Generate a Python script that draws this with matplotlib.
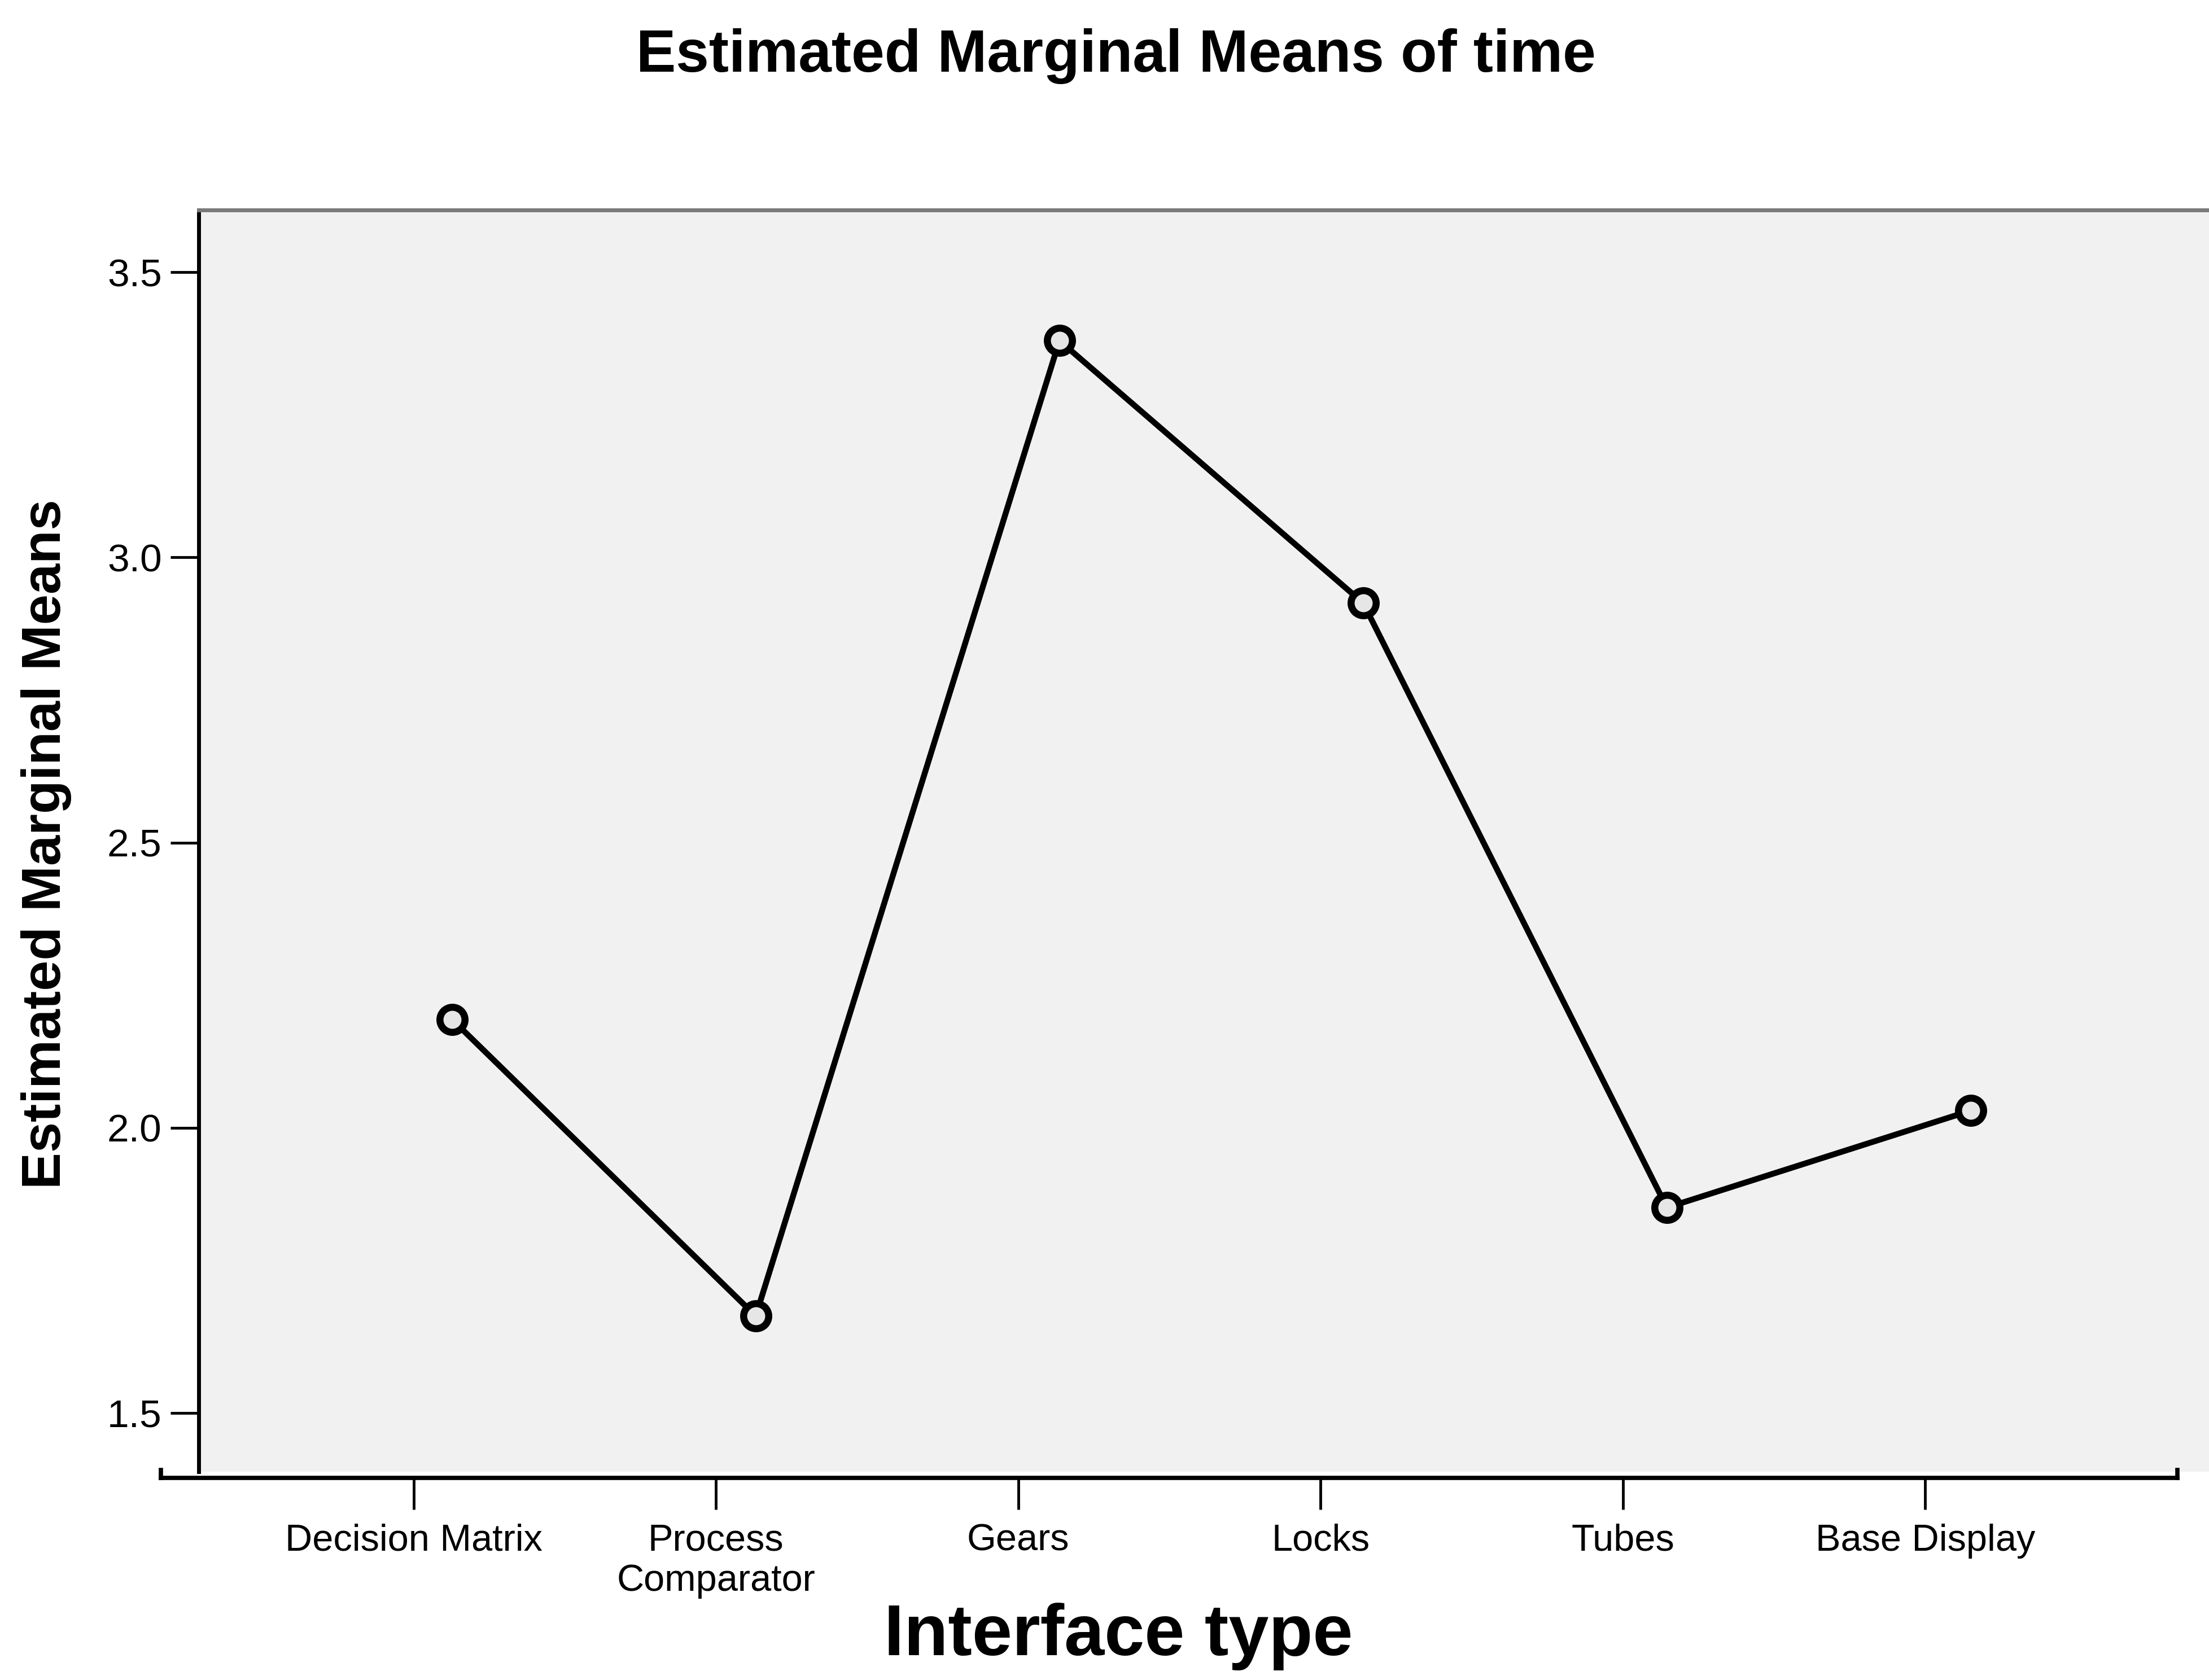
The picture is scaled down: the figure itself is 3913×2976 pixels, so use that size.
import matplotlib
matplotlib.use("Agg")
import matplotlib.pyplot as plt
import numpy as np

# ---- data ----
categories = ["Decision Matrix", "Process\nComparator", "Gears", "Locks", "Tubes", "Base Display"]
means = [2.19, 1.67, 3.38, 2.92, 1.86, 2.03]
yticks = [1.5, 2.0, 2.5, 3.0, 3.5]
ytick_labels = ["1.5", "2.0", "2.5", "3.0", "3.5"]
title_text = "Estimated Marginal Means of time"
ylabel_text = "Estimated Marginal Means"
xlabel_text = "Interface type"

plt.rcParams['font.family'] = ['Liberation Sans', 'DejaVu Sans']

W, H = 3913, 2976
DPI = 100
fig = plt.figure(figsize=(W / DPI, H / DPI), dpi=DPI)
fig.patch.set_facecolor("white")

def fx(px):
    return px / W

def fy(py):
    return 1 - py / H

# main plotting area (shaded)
left_px, top_px, bottom_px, right_px = 352, 372, 2607, 3913
ax = fig.add_axes([fx(left_px), fy(bottom_px), fx(right_px - left_px), (bottom_px - top_px) / H])
ax.set_facecolor("#f1f1f1")
x = np.arange(len(categories))
ax.plot(x, means, color="black", lw=7.5, marker="o", markersize=32,
        markerfacecolor="#e6e6e6", markeredgecolor="black", markeredgewidth=9,
        solid_joinstyle="round", zorder=3)
# x mapping: pixel = 800.7 + 538*i
x0, dx = 800.7, 538.0
ax.set_xlim((left_px - x0) / dx, (right_px - x0) / dx)
ax.set_ylim(1.397, 3.609)
ax.set_yticks(yticks)
ax.set_yticklabels(ytick_labels)
ax.set_xticks([])
ax.tick_params(axis="y", length=36, width=3.5, pad=11, labelsize=50, colors="black")
for s in ["right", "bottom"]:
    ax.spines[s].set_visible(False)
ax.spines["left"].set_linewidth(5)
ax.spines["left"].set_color("black")
ax.spines["top"].set_linewidth(5)
ax.spines["top"].set_color("#7a7a7a")

# separate x-axis line
xa_left, xa_right, xa_y = 285, 3857, 2618
axx = fig.add_axes([fx(xa_left), fy(xa_y), fx(xa_right - xa_left), 14 / H])
axx.patch.set_visible(False)
t0, tdx = 732.75, 535.5
axx.set_xlim((xa_left - t0) / tdx, (xa_right - t0) / tdx)
axx.set_xticks(x)
axx.set_xticklabels(categories, fontsize=48, linespacing=1.2)
axx.set_yticks([])
axx.tick_params(axis="x", length=40, width=3.5, pad=18, colors="black")
axx.spines["top"].set_visible(False)
for s in ["bottom", "left", "right"]:
    axx.spines[s].set_linewidth(5.5)
    axx.spines[s].set_color("black")

# texts
fig.text(fx(1977), fy(127), title_text, ha="center", va="baseline",
         fontsize=76, fontweight="bold")
fig.text(fx(82), fy(1495), ylabel_text, ha="center", va="center", rotation=90,
         fontsize=70, fontweight="bold")
fig.text(fx(1981), fy(2932), xlabel_text, ha="center", va="baseline",
         fontsize=92, fontweight="bold")

fig.savefig("out.png", dpi=DPI, facecolor="white")
